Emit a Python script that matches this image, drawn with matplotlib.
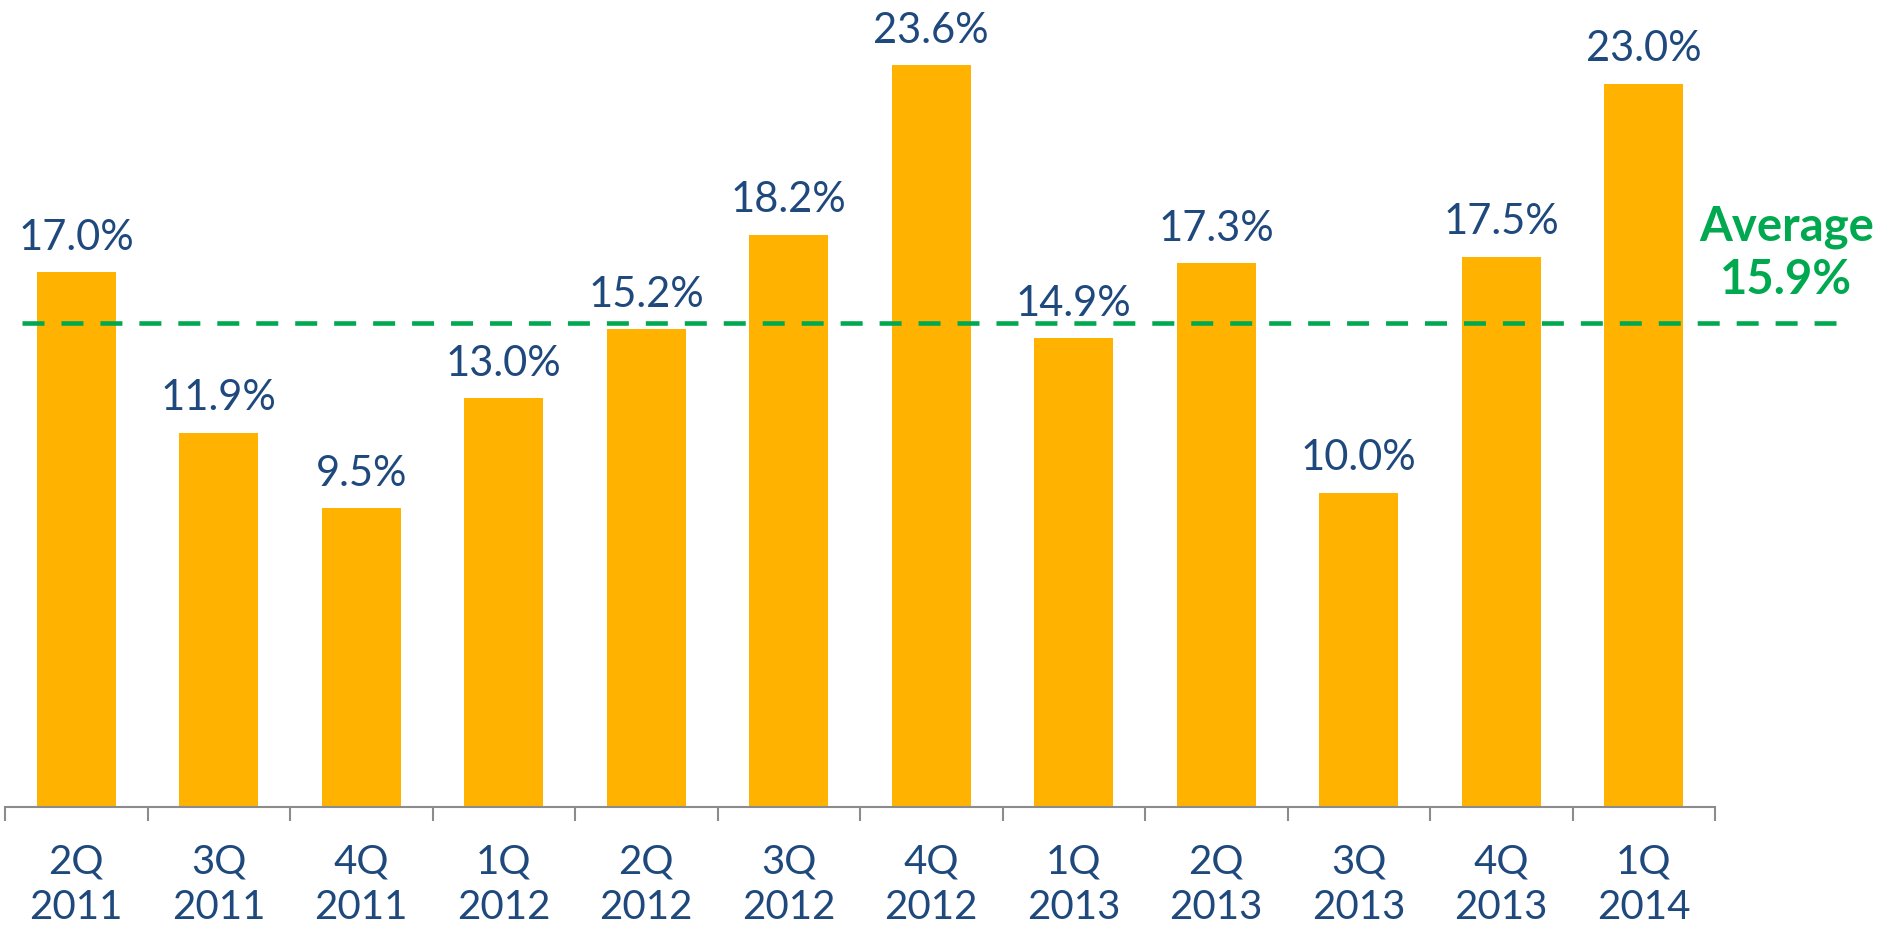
import matplotlib
matplotlib.use("Agg")
import matplotlib.pyplot as plt
import numpy as np

# quarterly values (%)
quarters = ["2Q\n2011", "3Q\n2011", "4Q\n2011", "1Q\n2012", "2Q\n2012", "3Q\n2012",
            "4Q\n2012", "1Q\n2013", "2Q\n2013", "3Q\n2013", "4Q\n2013", "1Q\n2014"]
values = [17.0, 11.9, 9.5, 13.0, 15.2, 18.2, 23.6, 14.9, 17.3, 10.0, 17.5, 23.0]
avg_label = "15.9%"
avg_line = 15.4  # where the dashed line sits in the original picture

bar_color = "#FFB300"
text_color = "#1F497D"
green = "#00A94F"

plt.rcParams['font.family'] = ['Lato', 'DejaVu Sans']

fig = plt.figure(figsize=(18.84, 9.38), dpi=100)
ax = fig.add_axes([5 / 1884, 1 - 807 / 938, 1710 / 1884, 807 / 938])

x = np.arange(len(quarters))
ax.bar(x, values, width=0.555, color=bar_color, zorder=2)

for xi, v in zip(x, values):
    ax.annotate(f"{v:.1f}%", (xi, v), xytext=(0, 11), textcoords="offset points",
                ha="center", va="bottom", fontsize=30, color=text_color)

ax.plot([-0.38, 12.35], [avg_line, avg_line], color=green, lw=3.3,
        dashes=(4.8, 3.7), clip_on=False, zorder=3)
ax.text(12.0, 17.6, "Average\n" + avg_label, ha="center", va="center",
        fontsize=34, fontweight="bold", color=green, linespacing=1.25)

ax.set_xlim(-0.5, 11.5)
ax.set_ylim(0, 25.66)
ax.set_yticks([])
for s in ["top", "right", "left"]:
    ax.spines[s].set_visible(False)
ax.spines["bottom"].set_color("#8C8C8C")
ax.spines["bottom"].set_linewidth(1.5)

ax.set_xticks(x)
ax.set_xticklabels(quarters, fontsize=29, color=text_color, linespacing=1.3)
ax.tick_params(axis="x", which="major", length=0, pad=26)
ax.set_xticks(np.arange(-0.5, 12, 1), minor=True)
ax.tick_params(axis="x", which="minor", length=10, width=1.5, color="#8C8C8C")

fig.savefig("out.png", dpi=100)
